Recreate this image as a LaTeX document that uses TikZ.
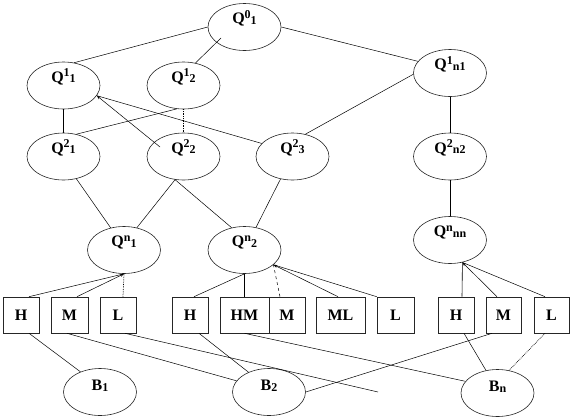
\documentclass[tikz,border=0pt]{standalone}
\usepackage{fontspec}
\setmainfont{Liberation Serif}
\usetikzlibrary{shapes.geometric,arrows.meta}
\newcommand{\qlab}[2]{Q\raisebox{5.5pt}{\fontsize{12}{12}\selectfont #1}\raisebox{-0.8pt}{\fontsize{12}{12}\selectfont #2}}
\newcommand{\blab}[1]{B\raisebox{-1.5pt}{\fontsize{12}{12}\selectfont #1}}
\begin{document}
\begin{tikzpicture}[x=1pt,y=-1pt,
  qnode/.style={ellipse,draw=black!85,line width=0.6pt,minimum width=73pt,minimum height=47pt,inner sep=0pt,text height=12pt,text depth=19pt,font=\fontsize{16}{16}\selectfont\bfseries},
  bnode/.style={qnode,text depth=16pt},
  lvlbox/.style={draw=black!85,line width=0.6pt,minimum height=36pt,inner sep=0pt,font=\fontsize{16}{16}\selectfont\bfseries},
  link/.style={line width=0.5pt},
  solidlink/.style={line width=0.6pt},
  dotlink/.style={line width=0.7pt,densely dotted},
  tipend/.style={-{Stealth[length=4pt,width=3pt,open]}}]
\useasboundingbox (0,0) rectangle (573,418);
% ellipses
\node[qnode] (q01) at (244.5,27) {\qlab{0}{1}};
\node[qnode] (q11) at (63.5,85.5) {\qlab{1}{1}};
\node[qnode] (q12) at (183.5,85.5) {\qlab{1}{2}};
\node[qnode] (q1n) at (450,73) {\qlab{1}{n1}};
\node[qnode] (q21) at (63.5,156.5) {\qlab{2}{1}};
\node[qnode] (q22) at (183.5,156.5) {\qlab{2}{2}};
\node[qnode] (q23) at (292.5,156.5) {\qlab{2}{3}};
\node[qnode] (q2n) at (450,156.5) {\qlab{2}{n2}};
\node[qnode] (qn1) at (124,250) {\qlab{n}{1}};
\node[qnode] (qn2) at (244.5,250) {\qlab{n}{2}};
\node[qnode] (qnn) at (450,240) {\qlab{n}{nn}};
\node[bnode] (b1) at (100,392) {\blab{1}};
\node[bnode] (b2) at (269,392) {\blab{2}};
\node[bnode] (bn) at (497.5,393) {\blab{n}};
% boxes
\node[lvlbox,minimum width=36pt] (h1) at (21,315) {H};
\node[lvlbox,minimum width=37pt] (m1) at (69.5,315) {M};
\node[lvlbox,minimum width=36pt] (l1) at (118,315) {L};
\node[lvlbox,minimum width=36pt] (h2) at (190,315) {H};
\node[lvlbox,minimum width=49pt] (hm) at (244.5,315) {HM};
\node[lvlbox,minimum width=36pt] (m2) at (287,315) {M};
\node[lvlbox,minimum width=49pt] (ml) at (340.5,315) {ML};
\node[lvlbox,minimum width=37pt] (l2) at (395.5,315) {L};
\node[lvlbox,minimum width=36pt] (h3) at (456,315) {H};
\node[lvlbox,minimum width=35pt] (m3) at (503.5,315) {M};
\node[lvlbox,minimum width=35pt] (l3) at (551.5,315) {L};
\coordinate (lend) at (378,392);
% top levels
\draw[link] (q01.180) -- (q11.65);
\draw[link] ([xshift=-23.5pt,yshift=-11pt]q01.center) -- (q12.62);
\draw[link] (q01.0) -- (q1n.160);
\draw[solidlink] (q11.south) -- (q21.north);
\draw[link,tipend] ([xshift=-23.5pt,yshift=9.5pt]q22.center) -- (q11.-17);
\draw[link] (q11.-17) -- (q23.157);
\draw[link] (q12.-106) -- (q21.60);
\draw[dotlink] (q12.south) -- (q22.north);
\draw[link] (q1n.182) -- (q23.60);
\draw[solidlink] (q1n.south) -- (q2n.north);
\draw[link] (q21.-60) -- (qn1.121);
\draw[link] (q22.-110) -- (qn1.60);
\draw[link] (q22.-110) -- (qn2.120);
\draw[link] (q23.-118) -- (qn2.63);
\draw[solidlink] (q2n.south) -- (qnn.north);
% to boxes
\draw[link] ([xshift=8pt]h1.north) -- (qn1.south);
\draw[link,tipend] ([xshift=7.5pt]m1.north) -- (qn1.south);
\draw[dotlink] ([xshift=5pt]l1.north) -- (qn1.south);
\draw[link] ([xshift=4pt]h2.north) -- (qn2.south);
\draw[solidlink] (hm.north) -- (qn2.south);
\draw[link,dashed] ([xshift=-7pt]m2.north) -- (qn2.-27);
\draw[link,tipend] ([xshift=-2.5pt]ml.north) -- (qn2.-27);
\draw[link] (l2.north west) -- (qn2.-27);
\draw[solidlink] ([xshift=6pt]h3.north) -- (qnn.-61);
\draw[link,tipend] ([xshift=-6.5pt]m3.north) -- (qnn.-61);
\draw[link] ([xshift=-6.5pt]l3.north) -- (qnn.-61);
% bottom
\draw[link] ([xshift=8pt]h1.south) -- (b1.134);
\draw[link] ([xshift=-2.5pt]m1.south) -- (b2.161);
\draw[link] ([xshift=7pt]l1.south) -- (lend);
\draw[link] ([xshift=9pt]h2.south) -- (b2.136);
\draw[link] (hm.south) -- (bn.160);
\draw[link] ([xshift=-11.5pt]m3.south) -- (b2.0);
\draw[link] ([xshift=8pt]h3.south) -- (bn.117);
\draw[dotlink] ([xshift=-6.5pt]l3.south) -- (bn.63);
\end{tikzpicture}
\end{document}
